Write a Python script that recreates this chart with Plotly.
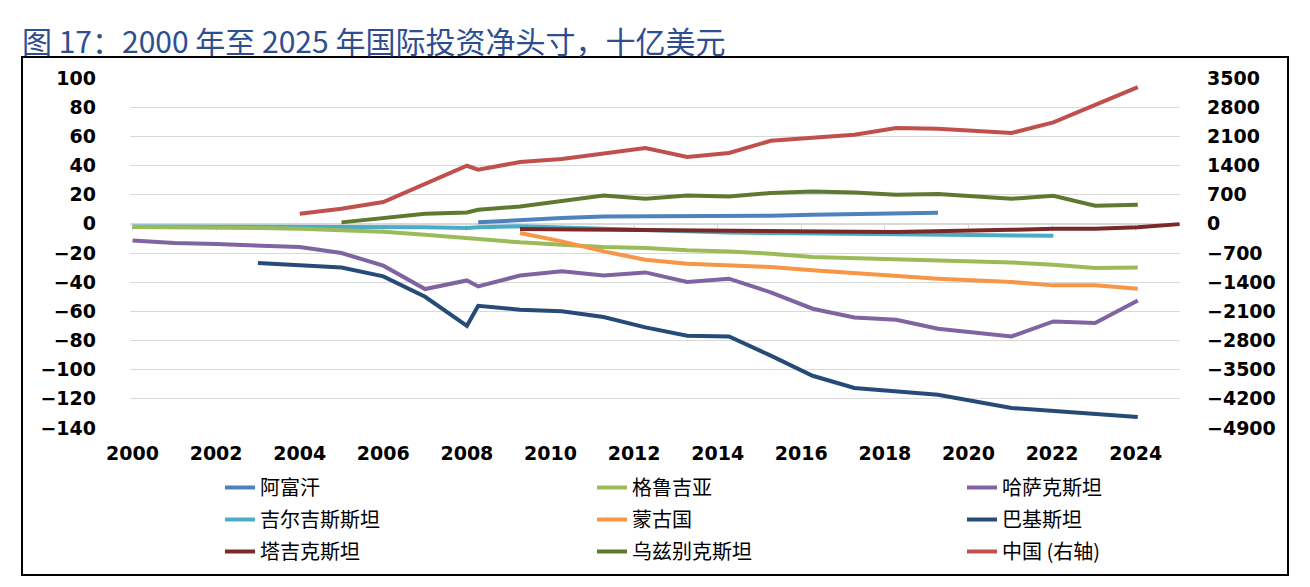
import plotly.graph_objects as go

# ---------------- data ----------------
X = [2000, 2001, 2002, 2003, 2004, 2005, 2006, 2007, 2008.0, 2008.27, 2009.27, 2010.27,
     2011.27, 2012.27, 2013.27, 2014.27, 2015.27, 2016.27, 2017.27, 2018.27, 2019.27,
     2020.15, 2021.03, 2022.03, 2023.03, 2024.05, 2025.05]

afghanistan = [None]*9 + [1.0, 2.8, 4.0, 5.1, 5.1, 5.6, 5.1, 5.6, 6.2, 6.7, 6.9, 7.6] + [None]*6
georgia = [-2.2, -2.3, -2.5, -2.8, -3.3, -4.3, -5.5, -7.5, -9.8, -10.9, -12.7, -14.3, -15.9,
           -16.6, -18.2, -18.9, -20.5, -22.8, -23.5, -24.1, -25.3, None, -26.5, -28.0, -30.3, -29.9, None]
kazakhstan = [-11.4, -13.2, -13.9, -14.8, -15.9, -20.0, -28.7, -44.7, -38.8, -42.9, -35.4, -32.6,
              -35.4, -33.3, -39.9, -37.6, -47.0, -58.2, -64.2, -65.8, -71.9, None, -77.2, -66.9,
              -68.0, -52.5, None]
kyrgyzstan = [-1.8, -1.8, -1.8, -1.9, -2.0, -2.0, -2.0, -2.3, -2.9, -2.3, -1.6, -2.5, -3.5, -4.5,
              -5.5, -6.0, -6.3, -6.5, -7.0, -7.2, -7.0, -7.3, -7.6, -8.2, None, None, None]
mongolia = [None]*10 + [-6.3, -12.0, -18.9, -24.6, -27.4, -28.7, -29.6, -31.9, -33.7, -36.0,
                        -37.6, None, -39.9, -42.2, -42.2, -44.5, None]
pakistan = [None, None, None, -26.9, -28.3, -30.0, -36.0, -50.0, -69.9, -56.2, -58.9, -60.0,
            -63.9, -71.0, -76.7, -77.2, -90.4, -104.2, -112.6, -114.9, -117.2, None, -126.3,
            -128.3, -129.8, -132.5, None]
tajikistan = [None]*10 + [-3.6, -3.9, -4.2, -4.5, -4.9, -5.1, -5.3, -5.4, -5.5, -5.6, -5.2,
                          -4.6, -4.1, -3.4, -3.3, -2.3, -0.2]
uzbekistan = [None]*5 + [1.0, 4.0, 6.9, 7.8, 9.7, 11.9, 15.4, 19.5, 17.2, 19.5, 18.8, 21.1,
                         22.2, 21.5, 20.0, 20.4, None, 17.2, 19.3, 12.4, 13.1, None]
china = [None]*4 + [242, 362, 523, None, 1394, 1298, 1483, 1555, 1699, 1819, 1603, 1699, 1994,
                    2074, 2138, 2299, 2282, None, 2179, 2433, None, 3283, None]

names = ["阿富汗", "格鲁吉亚", "哈萨克斯坦", "吉尔吉斯斯坦", "蒙古国", "巴基斯坦",
         "塔吉克斯坦", "乌兹别克斯坦", "中国 (右轴)"]
series = [afghanistan, georgia, kazakhstan, kyrgyzstan, mongolia, pakistan,
          tajikistan, uzbekistan, china]
colors = ["#4F81BD", "#9BBB59", "#8064A2", "#4BACC6", "#F79646", "#264B78",
          "#7B2828", "#5F7A30", "#C0504D"]
legend_col = ["legend", "legend2", "legend3"] * 3

left_ticks = list(range(-140, 101, 20))
right_ticks = list(range(-4900, 3501, 700))
x_ticks = list(range(2000, 2025, 2))

# ---------------- layout geometry ----------------
W, H = 1310, 587
PL, PR, PT, PB = 130, 1180, 78, 428
pw, ph = PR - PL, PB - PT


def px(x):
    return (x - PL) / pw


def py(y):
    return (PB - y) / ph


fig = go.Figure()

# x axis drawn along zero with small tick marks
fig.add_trace(go.Scatter(x=[], y=[], xaxis="x2", yaxis="y", showlegend=False, hoverinfo="skip"))

draw_order = [3, 1, 2, 5, 4, 0, 7, 6, 8]
for i in draw_order:
    fig.add_trace(go.Scatter(
        x=X, y=series[i], name=names[i], mode="lines",
        line=dict(color=colors[i], width=4),
        connectgaps=True,
        yaxis="y2" if i == 8 else "y",
        legend=legend_col[i], legendgroup=names[i], legendrank=i,
    ))

tickfont = dict(family="DejaVu Sans", size=19, color="black", weight="bold")
legfont = dict(family="Noto Sans CJK SC", size=20, color="black")

fig.update_layout(
    width=W, height=H,
    margin=dict(l=PL, r=W - PR, t=PT, b=H - PB),
    paper_bgcolor="white", plot_bgcolor="white",
    xaxis=dict(range=[1999.94, 2025.06], tickvals=x_ticks, ticktext=[str(t) for t in x_ticks],
               showgrid=False, zeroline=False, showline=False, ticks="",
               tickfont=tickfont, ticklabelstandoff=12),
    xaxis2=dict(range=[1999.94, 2025.06], overlaying="x", anchor="free",
                position=(0 - left_ticks[0]) / (left_ticks[-1] - left_ticks[0]),
                tickvals=x_ticks, showticklabels=False, ticks="outside", ticklen=6,
                tickcolor="#D9D9D9", showline=True, linecolor="#D9D9D9", linewidth=1,
                showgrid=False, zeroline=False, layer="below traces"),
    yaxis=dict(range=[-140, 100], tickvals=left_ticks, showgrid=True, gridcolor="#D9D9D9",
               gridwidth=1, zeroline=False, showline=False, ticks="",
               tickfont=tickfont, ticklabelstandoff=33),
    yaxis2=dict(range=[-4900, 3500], tickvals=right_ticks, overlaying="y", side="right",
                showgrid=False, zeroline=False, showline=False, ticks="",
                tickfont=tickfont, ticklabelstandoff=26),
    showlegend=True,
    legend=dict(x=px(220), y=py(468), xanchor="left", yanchor="top", orientation="v",
                traceorder="grouped", tracegroupgap=3, font=legfont, bgcolor="rgba(0,0,0,0)"),
    legend2=dict(x=px(592), y=py(468), xanchor="left", yanchor="top", orientation="v",
                 traceorder="grouped", tracegroupgap=3, font=legfont, bgcolor="rgba(0,0,0,0)"),
    legend3=dict(x=px(962), y=py(468), xanchor="left", yanchor="top", orientation="v",
                 traceorder="grouped", tracegroupgap=3, font=legfont, bgcolor="rgba(0,0,0,0)"),
    shapes=[dict(type="rect", xref="paper", yref="paper",
                 x0=px(22), x1=px(1288), y0=py(575), y1=py(57),
                 line=dict(color="black", width=2), fillcolor="rgba(0,0,0,0)", layer="below")],
    annotations=[dict(text="图 17：2000 年至 2025 年国际投资净头寸，十亿美元",
                      xref="paper", yref="paper", x=px(20), y=py(40),
                      xanchor="left", yanchor="middle", showarrow=False,
                      font=dict(family="Noto Sans CJK SC", size=30, color="#2E4E8F"))],
)

fig.write_html("out.html")
